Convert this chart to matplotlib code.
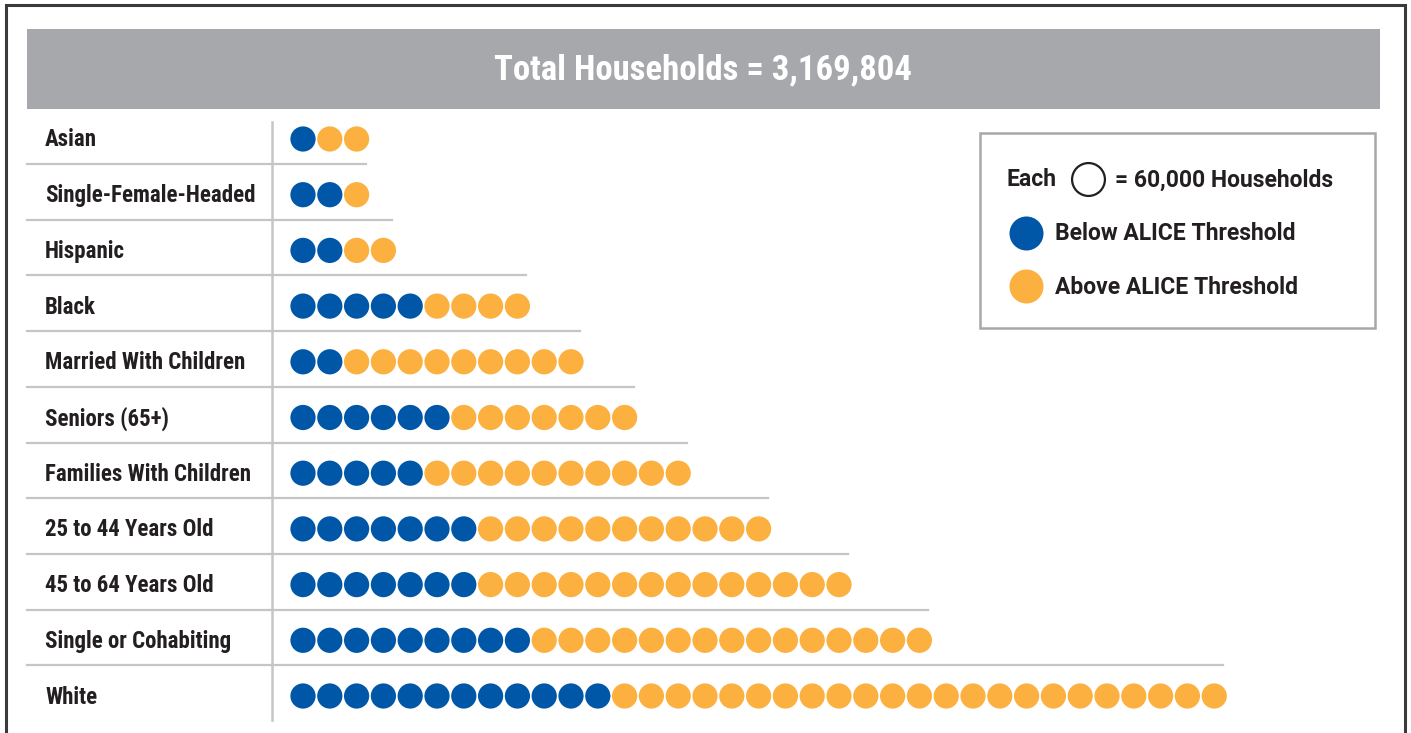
import matplotlib
matplotlib.use("Agg")
import matplotlib.pyplot as plt
from matplotlib import font_manager
from matplotlib.patches import Rectangle

# households per group, in dots (each dot = 60,000 households)
groups = ["Asian", "Single-Female-Headed", "Hispanic", "Black",
          "Married With Children", "Seniors (65+)", "Families With Children",
          "25 to 44 Years Old", "45 to 64 Years Old", "Single or Cohabiting", "White"]
below = [1, 2, 2, 5, 2, 6, 5, 7, 7, 9, 12]
above = [2, 1, 2, 4, 9, 7, 10, 11, 14, 15, 23]

title = "Total Households = 3,169,804"
legend_unit = "= 60,000 Households"
legend_labels = ["Below ALICE Threshold", "Above ALICE Threshold"]

BLUE = "#0057a8"
ORANGE = "#fbb040"
GREY = "#a7a8ab"
LINE = "#c4c5c8"


def pick(names):
    for n in names:
        try:
            font_manager.findfont(font_manager.FontProperties(family=n), fallback_to_default=False)
            return n
        except Exception:
            pass
    return "DejaVu Sans"


narrow = pick(["Liberation Sans Narrow", "Roboto Condensed", "DejaVu Sans"])
body = pick(["Roboto", "Liberation Sans", "DejaVu Sans"])

fig = plt.figure(figsize=(14.11, 7.33), dpi=100)
ax = fig.add_axes([0, 0, 1, 1])
ax.set_xlim(0, 1411)
ax.set_ylim(733, 0)
ax.axis("off")

# outer frame
ax.plot([6, 6, 1405, 1405], [733, 5, 5, 733], color="#3a3a3a", lw=2.2, solid_joinstyle="miter")

# header band
ax.add_patch(Rectangle((27, 29), 1353, 80, color=GREY, lw=0))
ax.text(703, 70, title, color="white", fontsize=25, fontweight="bold",
        family=narrow, ha="center", va="center")

y0, dy = 139, 55.7
x0, dx = 303, 26.8
r = 12

for i, name in enumerate(groups):
    y = y0 + i * dy
    ax.text(45, y + 1, name, fontsize=16.5, fontweight="bold", family=narrow,
            color="#231f20", ha="left", va="center")
    n = below[i] + above[i]
    xs = [x0 + k * dx for k in range(n)]
    cols = [BLUE] * below[i] + [ORANGE] * above[i]
    ax.scatter(xs, [y] * n, s=330, c=cols, linewidths=0, zorder=3)
    if i < len(groups) - 1:
        nn = below[i + 1] + above[i + 1]
        xend = x0 + (nn - 1) * dx + r - 3
        ax.plot([27, xend], [y + 25, y + 25], color=LINE, lw=1.6, zorder=1)

ax.plot([272, 272], [122, 720], color=LINE, lw=1.8, zorder=1)

# legend box
ax.add_patch(Rectangle((980, 133), 395, 195, fill=False, ec=GREY, lw=1.8))
ax.text(1007, 180, "Each", fontsize=16.5, fontweight="bold", family=body,
        color="#231f20", ha="left", va="center")
ax.scatter([1088], [179], s=560, facecolors="white", edgecolors="#231f20", linewidths=1.6, zorder=3)
ax.text(1115, 180, legend_unit, fontsize=16.5, fontweight="bold", family=body,
        color="#231f20", ha="left", va="center")
for j, (lab, col) in enumerate(zip(legend_labels, [BLUE, ORANGE])):
    yy = 233 + j * 53
    ax.scatter([1026], [yy], s=600, c=col, linewidths=0, zorder=3)
    ax.text(1055, yy + 1, lab, fontsize=16.5, fontweight="bold", family=body,
            color="#231f20", ha="left", va="center")

fig.savefig("out.png", dpi=100)
